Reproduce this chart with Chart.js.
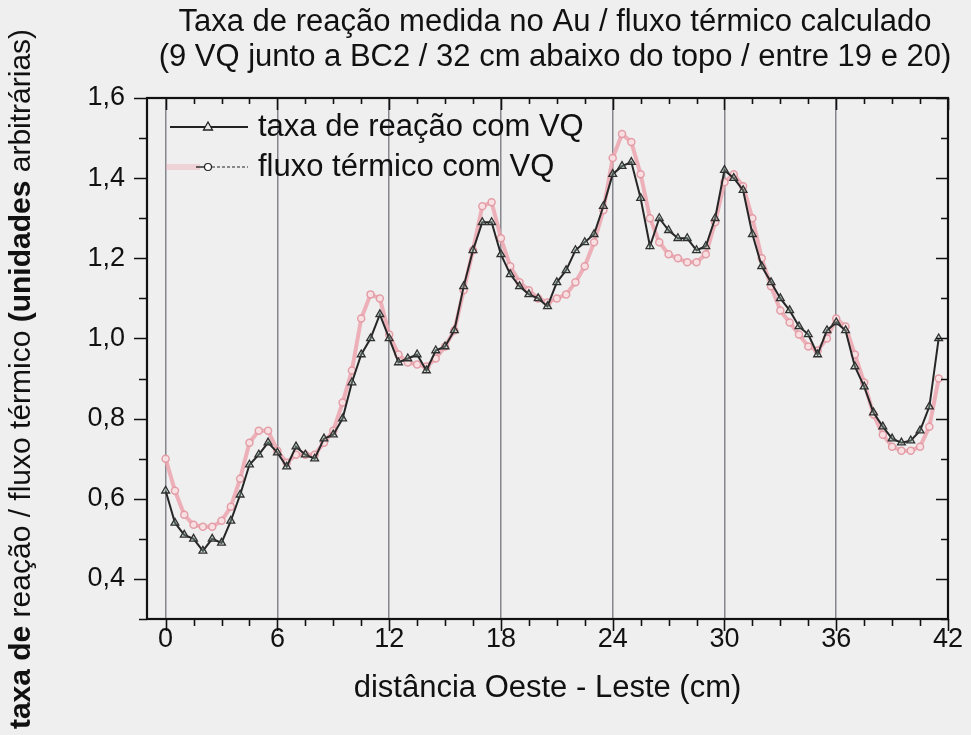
<!DOCTYPE html>
<html>
<head>
<meta charset="utf-8">
<script src="https://cdn.jsdelivr.net/npm/chart.js@4/dist/chart.umd.min.js"></script>
<style>
  html, body { margin: 0; padding: 0; background: #efefef; }
  #grafico { display: block; }
</style>
</head>
<body>
<canvas id="grafico" width="971" height="735" style="width:971px;height:735px"></canvas>
<script>
// distância Oeste - Leste (cm), um ponto a cada 0,5 cm
const distancia = [0, 0.5, 1, 1.5, 2, 2.5, 3, 3.5, 4, 4.5, 5, 5.5, 6, 6.5, 7, 7.5, 8, 8.5, 9, 9.5,
  10, 10.5, 11, 11.5, 12, 12.5, 13, 13.5, 14, 14.5, 15, 15.5, 16, 16.5, 17, 17.5, 18, 18.5, 19, 19.5,
  20, 20.5, 21, 21.5, 22, 22.5, 23, 23.5, 24, 24.5, 25, 25.5, 26, 26.5, 27, 27.5, 28, 28.5, 29, 29.5,
  30, 30.5, 31, 31.5, 32, 32.5, 33, 33.5, 34, 34.5, 35, 35.5, 36, 36.5, 37, 37.5, 38, 38.5, 39, 39.5,
  40, 40.5, 41, 41.5];

// taxa de reação medida no Au (com VQ)
const taxaReacao = [0.62, 0.54, 0.51, 0.50, 0.47, 0.50, 0.49, 0.545, 0.61, 0.685,
  0.71, 0.74, 0.715, 0.68, 0.73, 0.71, 0.70, 0.75, 0.76, 0.80,
  0.89, 0.96, 1.00, 1.06, 1.00, 0.94, 0.95, 0.96, 0.92, 0.97,
  0.98, 1.02, 1.13, 1.22, 1.29, 1.29, 1.21, 1.16, 1.13, 1.11,
  1.10, 1.08, 1.14, 1.17, 1.22, 1.24, 1.26, 1.33, 1.41, 1.43,
  1.44, 1.35, 1.23, 1.30, 1.27, 1.25, 1.25, 1.22, 1.23, 1.30,
  1.42, 1.40, 1.37, 1.26, 1.18, 1.14, 1.10, 1.07, 1.03, 1.01,
  0.96, 1.02, 1.04, 1.02, 0.93, 0.88, 0.815, 0.78, 0.75, 0.74,
  0.745, 0.77, 0.83, 1.00];

// fluxo térmico calculado (com VQ)
const fluxoTermico = [0.70, 0.62, 0.56, 0.535, 0.53, 0.53, 0.545, 0.58, 0.65, 0.74,
  0.77, 0.77, 0.72, 0.69, 0.71, 0.71, 0.71, 0.74, 0.77, 0.84,
  0.92, 1.05, 1.11, 1.10, 1.01, 0.96, 0.94, 0.935, 0.93, 0.95,
  0.98, 1.02, 1.12, 1.22, 1.33, 1.34, 1.25, 1.18, 1.14, 1.12,
  1.10, 1.09, 1.10, 1.11, 1.14, 1.18, 1.24, 1.32, 1.45, 1.51,
  1.49, 1.41, 1.30, 1.24, 1.21, 1.20, 1.19, 1.19, 1.21, 1.29,
  1.39, 1.41, 1.38, 1.30, 1.20, 1.13, 1.07, 1.04, 1.01, 0.98,
  0.97, 1.00, 1.05, 1.03, 0.96, 0.89, 0.81, 0.76, 0.73, 0.72,
  0.72, 0.73, 0.78, 0.90];

const ticksX = [0, 6, 12, 18, 24, 30, 36, 42];
const ticksY = [0.4, 0.6, 0.8, 1.0, 1.2, 1.4, 1.6];

const titulo = [
  'Taxa de reação medida no Au / fluxo térmico calculado',
  '(9 VQ junto a BC2 / 32 cm abaixo do topo / entre 19 e 20)'
];
const tituloY = [
  ['taxa de ', 'bold'],
  ['reação / fluxo térmico ', 'normal'],
  ['(unidades', 'bold'],
  [' arbitrárias)', 'normal']
];
const tituloX = 'distância Oeste - Leste (cm)';

const FONTE = '"Liberation Sans", Arial, Helvetica, sans-serif';
const TINTA = '#111';

const pontos = serie => distancia.map((x, i) => ({ x: x, y: serie[i] }));

// moldura completa + marcas maiores e menores nos quatro lados
const moldura = {
  id: 'moldura',
  afterDraw(chart) {
    const { ctx, chartArea: a, scales: { x, y } } = chart;
    ctx.save();
    ctx.strokeStyle = TINTA;
    ctx.lineWidth = 1.6;
    ctx.beginPath();
    for (let k = 0; k <= 28; k++) {
      const v = k * 1.5;
      const px = Math.round(x.getPixelForValue(v)) + 0.5;
      const maior = k % 4 === 0;
      ctx.moveTo(px, a.bottom);
      ctx.lineTo(px, a.bottom + (maior ? 12 : 7));
      ctx.moveTo(px, a.top);
      ctx.lineTo(px, a.top + (maior ? 12 : 6));
    }
    for (let k = 3; k <= 16; k++) {
      const py = Math.round(y.getPixelForValue(k / 10)) + 0.5;
      const maior = k % 2 === 0;
      ctx.moveTo(a.left - (maior ? 13 : 8), py);
      ctx.lineTo(a.left, py);
      ctx.moveTo(a.right, py);
      ctx.lineTo(a.right - (maior ? 12 : 7), py);
    }
    ctx.stroke();
    ctx.lineWidth = 2.2;
    ctx.strokeRect(a.left, a.top, a.right - a.left, a.bottom - a.top);
    ctx.restore();
  }
};

// título em duas linhas
const tituloPlugin = {
  id: 'tituloDuplo',
  afterDraw(chart) {
    const ctx = chart.ctx;
    ctx.save();
    ctx.fillStyle = TINTA;
    ctx.font = '31px ' + FONTE;
    ctx.textAlign = 'center';
    ctx.textBaseline = 'middle';
    ctx.fillText(titulo[0], 555, 22);
    ctx.fillText(titulo[1], 555, 57);
    ctx.restore();
  }
};

// título do eixo y, com trechos em negrito
const tituloEixoY = {
  id: 'tituloEixoY',
  afterDraw(chart) {
    const ctx = chart.ctx;
    ctx.save();
    ctx.fillStyle = TINTA;
    ctx.textBaseline = 'middle';
    ctx.textAlign = 'left';
    let total = 0;
    tituloY.forEach(([txt, peso]) => {
      ctx.font = peso + ' 30px ' + FONTE;
      total += ctx.measureText(txt).width;
    });
    ctx.translate(22, 379 + total / 2);
    ctx.rotate(-Math.PI / 2);
    let pos = 0;
    tituloY.forEach(([txt, peso]) => {
      ctx.font = peso + ' 30px ' + FONTE;
      ctx.fillText(txt, pos, 0);
      pos += ctx.measureText(txt).width;
    });
    ctx.restore();
  }
};

// legenda dentro da área do gráfico
const legendaPlugin = {
  id: 'legendaInterna',
  afterDraw(chart) {
    const ctx = chart.ctx;
    const a = chart.chartArea;
    const x0 = a.left + 23, x1 = a.left + 101, xm = a.left + 61, xt = a.left + 111;
    const y1 = a.top + 29, y2 = a.top + 69;
    ctx.save();
    // taxa de reação
    ctx.strokeStyle = '#222';
    ctx.lineWidth = 2;
    ctx.beginPath();
    ctx.moveTo(x0, y1);
    ctx.lineTo(x1, y1);
    ctx.stroke();
    ctx.fillStyle = '#e8ece9';
    ctx.lineWidth = 1.3;
    ctx.beginPath();
    ctx.moveTo(xm, y1 - 5);
    ctx.lineTo(xm + 4.5, y1 + 3);
    ctx.lineTo(xm - 4.5, y1 + 3);
    ctx.closePath();
    ctx.fill();
    ctx.stroke();
    // fluxo térmico
    ctx.strokeStyle = 'rgba(240,175,185,0.45)';
    ctx.lineWidth = 6;
    ctx.beginPath();
    ctx.moveTo(x0 - 4, y2);
    ctx.lineTo(x0 + 30, y2);
    ctx.stroke();
    ctx.strokeStyle = '#222';
    ctx.lineWidth = 1.4;
    ctx.beginPath();
    ctx.moveTo(x0 + 26, y2);
    ctx.lineTo(xm - 4, y2);
    ctx.stroke();
    ctx.setLineDash([3, 2]);
    ctx.lineWidth = 1;
    ctx.beginPath();
    ctx.moveTo(xm + 4, y2);
    ctx.lineTo(x1, y2);
    ctx.stroke();
    ctx.setLineDash([]);
    ctx.fillStyle = '#fff';
    ctx.lineWidth = 1.2;
    ctx.beginPath();
    ctx.arc(xm, y2, 3.5, 0, Math.PI * 2);
    ctx.fill();
    ctx.stroke();
    // textos
    ctx.fillStyle = TINTA;
    ctx.font = '31px ' + FONTE;
    ctx.textAlign = 'left';
    ctx.textBaseline = 'middle';
    ctx.fillText(chart.data.datasets[0].label, xt, y1);
    ctx.fillText(chart.data.datasets[1].label, xt, y2);
    ctx.restore();
  }
};

new Chart(document.getElementById('grafico'), {
  type: 'line',
  data: {
    datasets: [
      {
        label: 'taxa de reação com VQ',
        data: pontos(taxaReacao),
        order: 0,
        borderColor: '#262626',
        borderWidth: 2,
        tension: 0,
        pointStyle: 'triangle',
        pointRadius: 4.5,
        pointBorderWidth: 1.3,
        pointBorderColor: '#303030',
        pointBackgroundColor: 'rgba(150,185,170,0.35)'
      },
      {
        label: 'fluxo térmico com VQ',
        data: pontos(fluxoTermico),
        order: 1,
        borderColor: 'rgba(236,165,175,0.85)',
        borderWidth: 4,
        tension: 0,
        pointStyle: 'circle',
        pointRadius: 3.5,
        pointBorderWidth: 1.5,
        pointBorderColor: 'rgba(225,150,160,0.9)',
        pointBackgroundColor: 'rgba(250,228,231,0.9)'
      }
    ]
  },
  options: {
    responsive: false,
    animation: false,
    devicePixelRatio: 1,
    layout: { padding: { top: 98, right: 23, left: 0, bottom: 0 } },
    plugins: {
      legend: { display: false },
      title: { display: false },
      tooltip: { enabled: false }
    },
    scales: {
      x: {
        type: 'linear',
        min: -1,
        max: 42,
        afterBuildTicks: s => { s.ticks = ticksX.map(v => ({ value: v })); },
        afterFit: s => { s.height = 116; },
        grid: {
          color: c => (c.tick && c.tick.value < 42 ? '#86868e' : 'rgba(0,0,0,0)'),
          lineWidth: 1.5,
          drawTicks: false
        },
        border: { display: false },
        ticks: {
          autoSkip: false,
          maxRotation: 0,
          padding: 4,
          color: TINTA,
          font: { family: FONTE, size: 27 }
        },
        title: {
          display: true,
          text: tituloX,
          color: TINTA,
          font: { family: FONTE, size: 31 },
          padding: { top: 0, bottom: 28 }
        }
      },
      y: {
        min: 0.3,
        max: 1.6,
        afterBuildTicks: s => { s.ticks = ticksY.map(v => ({ value: v })); },
        afterFit: s => { s.width = 147; },
        grid: { drawOnChartArea: false, drawTicks: false },
        border: { display: false },
        ticks: {
          padding: 22,
          color: TINTA,
          font: { family: FONTE, size: 27 },
          callback: v => v.toFixed(1).replace('.', ',')
        }
      }
    }
  },
  plugins: [moldura, tituloPlugin, tituloEixoY, legendaPlugin]
});
</script>
</body>
</html>
